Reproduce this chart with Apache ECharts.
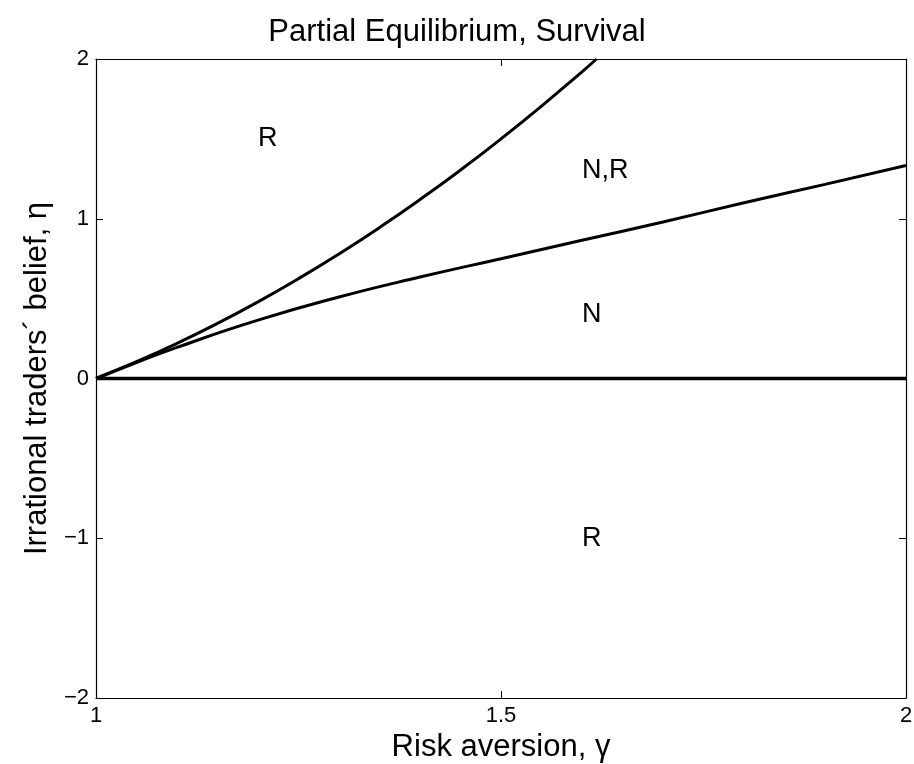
<!DOCTYPE html>
<html>
<head>
<meta charset="utf-8">
<script src="https://cdn.jsdelivr.net/npm/echarts@6/dist/echarts.min.js"></script>
<style>html,body{margin:0;padding:0;background:#fff}#c{width:914px;height:764px}</style>
</head>
<body>
<div id="c"></div>
<script>
// Data
var upperGamma = [1, 1.05, 1.1, 1.15, 1.2, 1.25, 1.3, 1.35, 1.4, 1.45, 1.5, 1.55, 1.6, 1.618];
var upperEta   = [0, 0.105, 0.22, 0.345, 0.48, 0.625, 0.78, 0.945, 1.12, 1.305, 1.5, 1.705, 1.92, 2.0];
var lowerGamma = [1, 1.05, 1.1, 1.2, 1.3, 1.4, 1.5, 1.6, 1.7, 1.8, 1.9, 2.0];
var lowerEta   = [0, 0.10, 0.195, 0.365, 0.51, 0.635, 0.75, 0.865, 0.98, 1.1, 1.215, 1.333];
var zeroGamma  = [1, 2];
var zeroEta    = [0, 0];
var regionText  = ['R', 'N,R', 'N', 'R'];
var regionGamma = [1.2, 1.6, 1.6, 1.6];
var regionEta   = [1.5, 1.3, 0.4, -1.0];
var xTicks = [1, 1.5, 2];
var yTicks = [-2, -1, 0, 1, 2];

function pairs(xs, ys) { return xs.map(function (x, i) { return [x, ys[i]]; }); }
var FONT = '"Liberation Sans", Arial, Helvetica, sans-serif';
function fmt(v) { return String(v).replace('-', '\u2212'); }

var chart = echarts.init(document.getElementById('c'), null, { renderer: 'canvas' });
var axisLine = { show: true, onZero: false, lineStyle: { color: '#000', width: 1.2 } };
var axisTick = { show: true, inside: true, length: 7, lineStyle: { color: '#000', width: 1 } };
chart.setOption({
  animation: false,
  backgroundColor: '#fff',
  title: {
    text: 'Partial Equilibrium, Survival',
    left: 'center', top: 12,
    textStyle: { fontFamily: FONT, fontSize: 31, fontWeight: 'normal', color: '#000' }
  },
  grid: { left: 96, right: 8, top: 59, bottom: 66, containLabel: false, outerBoundsMode: 'none' },
  xAxis: [{
    type: 'value', min: 1, max: 2, interval: 0.5, position: 'bottom',
    name: 'Risk aversion, \u03b3', nameLocation: 'middle', nameGap: 31,
    nameTextStyle: { fontFamily: FONT, fontSize: 31, color: '#000' },
    axisLine: axisLine, axisTick: axisTick, splitLine: { show: false },
    axisLabel: { fontFamily: FONT, fontSize: 22, color: '#000', margin: 7, formatter: function (v) { return fmt(v); } }
  }, {
    type: 'value', min: 1, max: 2, interval: 0.5, position: 'top',
    axisLine: axisLine, axisTick: axisTick, splitLine: { show: false }, axisLabel: { show: false }
  }],
  yAxis: [{
    type: 'value', min: -2, max: 2, interval: 1, position: 'left',
    name: 'Irrational traders\u00b4 belief, \u03b7', nameLocation: 'middle', nameGap: 38,
    nameTextStyle: { fontFamily: FONT, fontSize: 31, color: '#000' },
    axisLine: axisLine, axisTick: axisTick, splitLine: { show: false },
    axisLabel: { fontFamily: FONT, fontSize: 22, color: '#000', margin: 7, formatter: function (v) { return fmt(v); } }
  }, {
    type: 'value', min: -2, max: 2, interval: 1, position: 'right',
    axisLine: axisLine, axisTick: axisTick, splitLine: { show: false }, axisLabel: { show: false }
  }],
  series: [
    { type: 'line', data: pairs(upperGamma, upperEta), smooth: true, symbol: 'none', lineStyle: { color: '#000', width: 3 }, clip: true },
    { type: 'line', data: pairs(lowerGamma, lowerEta), smooth: true, symbol: 'none', lineStyle: { color: '#000', width: 3 }, clip: true },
    { type: 'line', data: pairs(zeroGamma, zeroEta), symbol: 'none', lineStyle: { color: '#000', width: 3.5 } },
    {
      type: 'scatter', symbolSize: 0, silent: true, itemStyle: { opacity: 1, color: '#000' },
      data: regionGamma.map(function (g, i) { return { value: [g, regionEta[i]], label: { formatter: regionText[i] } }; }),
      label: { show: true, position: 'right', distance: 0, fontFamily: FONT, fontSize: 27, color: '#000' }
    }
  ]
});
</script>
</body>
</html>
